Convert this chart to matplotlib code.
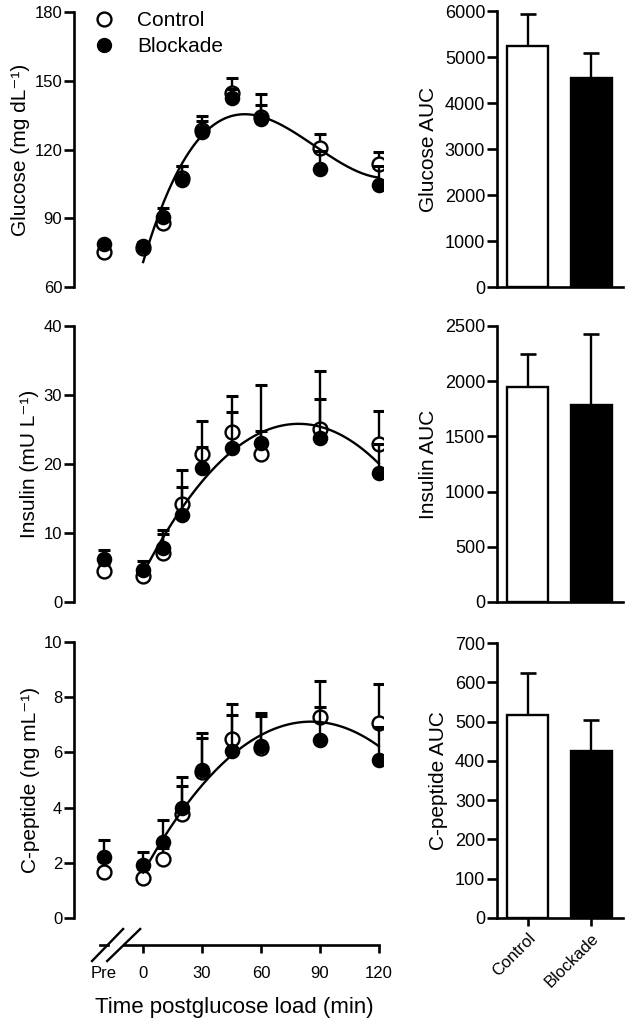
import numpy as np
import matplotlib
matplotlib.use('Agg')
from matplotlib import pyplot as plt
from matplotlib.lines import Line2D

plt.rcParams['font.family'] = ['Liberation Sans', 'DejaVu Sans']
plt.rcParams['axes.linewidth'] = 1.9

## time points (Pre is drawn left of the axis break)
time_labels = ['Pre', '0', '30', '60', '90', '120']
times = [0, 10, 20, 30, 45, 60, 90, 120]
PRE = -20

## Pre value first, then one per entry in times
glu_ctrl = [75.3, 77.0, 88.0, 107.5, 128.5, 144.5, 134.0, 120.5, 113.7]
glu_ctrl_err = [1.5, 2.0, 4.0, 5.5, 6.3, 6.5, 10.2, 6.3, 5.1]
glu_blk = [78.7, 77.7, 90.7, 106.5, 127.8, 142.5, 133.3, 111.4, 104.5]
glu_blk_err = [1.5, 2.0, 3.9, 6.3, 4.6, 4.0, 6.0, 8.0, 8.5]

ins_ctrl = [4.5, 3.8, 7.1, 14.2, 21.4, 24.7, 21.5, 25.1, 22.9]
ins_ctrl_err = [1.0, 1.0, 3.4, 5.0, 4.8, 5.2, 3.3, 8.4, 4.8]
ins_blk = [6.2, 4.7, 7.8, 12.6, 19.4, 22.3, 23.0, 23.7, 18.7]
ins_blk_err = [1.4, 1.2, 2.0, 4.0, 3.0, 5.2, 8.5, 5.7, 4.2]

cp_ctrl = [1.68, 1.44, 2.14, 3.77, 5.30, 6.49, 6.15, 7.27, 7.05]
cp_ctrl_err = [0.40, 0.35, 0.40, 1.33, 1.39, 1.25, 1.27, 1.33, 1.43]
cp_blk = [2.22, 1.92, 2.76, 4.00, 5.36, 6.06, 6.23, 6.45, 5.72]
cp_blk_err = [0.61, 0.46, 0.79, 0.80, 1.17, 1.29, 1.09, 1.21, 1.21]

## AUC bars
groups = ['Control', 'Blockade']
glu_auc = [5238, 4534]
glu_auc_err = [689, 545]
ins_auc = [1945, 1782]
ins_auc_err = [302, 643]
cp_auc = [516, 425]
cp_auc_err = [108, 79]

W, H = 625, 1028
fig = plt.figure(figsize=(W / 100, H / 100), dpi=100)


def px_axes(left, top, width, height):
    return fig.add_axes([left / W, 1 - (top + height) / H, width / W, height / H])


XMIN, XMAX = -35.2, 122
left_w = (XMAX - XMIN) * 1.964
rows = [(12, 275), (326, 276), (642, 276)]
bar_rows = [(11, 276), (326, 276), (643, 275)]

FS_TICK = 12
FS_BTICK = 13
FS_LAB = 15


def time_panel(ax, ctrl, ctrl_err, blk, blk_err, deg, ylim, yticks, ylabel):
    x = [PRE] + times
    ax.errorbar(x, ctrl, yerr=[np.zeros(len(ctrl)), ctrl_err], fmt='none',
                ecolor='black', elinewidth=1.7, capsize=4.5, capthick=2.2, zorder=2)
    ax.plot(x, ctrl, 'o', ms=10, mfc='white', mec='black', mew=1.7, zorder=3)
    ax.errorbar(x, blk, yerr=[np.zeros(len(blk)), blk_err], fmt='none',
                ecolor='black', elinewidth=1.7, capsize=4.5, capthick=2.2, zorder=4)
    ax.plot(x, blk, 'o', ms=10, mfc='black', mec='black', mew=1.2, zorder=5)

    # polynomial fit through the group means (t >= 0)
    mean = (np.array(ctrl[1:]) + np.array(blk[1:])) / 2
    coef = np.polyfit(times, mean, deg)
    tt = np.linspace(0, 120, 200)
    ax.plot(tt, np.polyval(coef, tt), color='black', lw=1.7, zorder=6)

    ax.set_xlim(XMIN, XMAX)
    ax.set_ylim(*ylim)
    ax.set_yticks(yticks)
    ax.set_ylabel(ylabel, fontsize=FS_LAB, labelpad=3)
    for s in ['top', 'right']:
        ax.spines[s].set_visible(False)
    ax.tick_params(axis='y', length=7, width=1.9, pad=1.5, labelsize=FS_TICK)


# Glucose
ax1 = px_axes(74, rows[0][0], left_w, rows[0][1])
time_panel(ax1, glu_ctrl, glu_ctrl_err, glu_blk, glu_blk_err, 3,
           (60, 180), [60, 90, 120, 150, 180], 'Glucose (mg dL\u207b\u00b9)')
ax1.spines['bottom'].set_visible(False)
ax1.set_xticks([])
handles = [Line2D([], [], ls='none', marker='o', ms=10, mfc='white', mec='black', mew=1.7),
           Line2D([], [], ls='none', marker='o', ms=10, mfc='black', mec='black')]
ax1.legend(handles, groups, loc='upper left', bbox_to_anchor=(0.062, 1.003),
           frameon=False, fontsize=FS_LAB, handlelength=1.0, handletextpad=1.1,
           borderpad=0, borderaxespad=0, labelspacing=0.35)

# Insulin
ax2 = px_axes(74, rows[1][0], left_w, rows[1][1])
time_panel(ax2, ins_ctrl, ins_ctrl_err, ins_blk, ins_blk_err, 2,
           (0, 40), [0, 10, 20, 30, 40], 'Insulin (mU L\u207b\u00b9)')
ax2.spines['bottom'].set_visible(False)
ax2.set_xticks([])

# C-peptide
ax3 = px_axes(74, rows[2][0], left_w, rows[2][1])
time_panel(ax3, cp_ctrl, cp_ctrl_err, cp_blk, cp_blk_err, 2,
           (0, 10), [0, 2, 4, 6, 8, 10], 'C-peptide (ng mL\u207b\u00b9)')
ax3.spines['bottom'].set_position(('outward', 19.4))
ax3.spines['bottom'].set_bounds(-9.9, 120)
ax3.set_xticks([PRE, 0, 30, 60, 90, 120])
ax3.set_xticklabels(time_labels)
ax3.tick_params(axis='x', length=6, width=1.9, pad=9, labelsize=FS_TICK)
ax3.xaxis.get_major_ticks()[0].tick1line.set_visible(False)
ax3.set_xlabel('Time postglucose load (min)', fontsize=16, labelpad=12)
ax3.xaxis.label.set_x(0.518)

# axis break marks
yb = -27 / 276
d = 16 / 276
tr = ax3.get_xaxis_transform()
ax3.plot([-21.8, -17.8], [yb, yb], color='black', lw=1.9, transform=tr, clip_on=False)
ax3.plot([-26.0, -10.2], [yb - d, yb + d], color='black', lw=1.7, transform=tr, clip_on=False)
ax3.plot([-18.3, -1.5], [yb - d, yb + d], color='black', lw=1.7, transform=tr, clip_on=False)


def bar_panel(ax, vals, errs, ylim, yticks, ylabel, show_x):
    pos = np.arange(len(vals))
    ax.bar(pos, vals, width=0.65, color=['white', 'black'], edgecolor='black',
           linewidth=1.7, zorder=2)
    ax.errorbar(pos, vals, yerr=[np.zeros(len(vals)), errs], fmt='none',
                ecolor='black', elinewidth=1.7, capsize=5.5, capthick=1.9, zorder=1)
    ax.set_xlim(-0.48, 1.5)
    ax.set_ylim(*ylim)
    ax.set_yticks(yticks)
    ax.set_ylabel(ylabel, fontsize=FS_LAB, labelpad=5)
    for s in ['top', 'right']:
        ax.spines[s].set_visible(False)
    ax.tick_params(axis='y', length=7, width=1.9, pad=1.5, labelsize=FS_BTICK)
    if show_x:
        ax.set_xticks(pos)
        ax.set_xticklabels(groups, rotation=45, ha='right', rotation_mode='anchor')
        ax.tick_params(axis='x', length=6, width=1.9, pad=3, labelsize=FS_TICK)
    else:
        ax.set_xticks([])


bx1 = px_axes(497, bar_rows[0][0], 126, bar_rows[0][1])
bar_panel(bx1, glu_auc, glu_auc_err, (0, 6000), range(0, 6001, 1000), 'Glucose AUC', False)
bx2 = px_axes(497, bar_rows[1][0], 126, bar_rows[1][1])
bar_panel(bx2, ins_auc, ins_auc_err, (0, 2500), range(0, 2501, 500), 'Insulin AUC', False)
bx3 = px_axes(497, bar_rows[2][0], 126, bar_rows[2][1])
bar_panel(bx3, cp_auc, cp_auc_err, (0, 700), range(0, 701, 100), 'C-peptide AUC', True)

fig.savefig('out.png', dpi=100)
